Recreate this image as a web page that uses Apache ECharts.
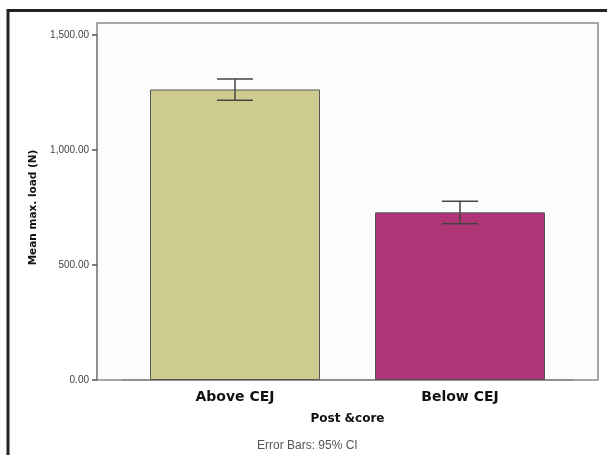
<!DOCTYPE html>
<html>
<head>
<meta charset="utf-8">
<script src="https://cdn.jsdelivr.net/npm/echarts@6/dist/echarts.min.js"></script>
<style>
  html, body { margin: 0; padding: 0; background: #fff; }
  #chart { width: 607px; height: 455px; }
</style>
</head>
<body>
<div id="chart"></div>
<script>
// data
var categories = ['Above CEJ', 'Below CEJ'];
var meanLoad = [1263, 729];
var ciLow = [1216, 679];
var ciHigh = [1309, 777];
var barColors = ['#cfcc8f', '#b03577'];
var yTicks = [0, 500, 1000, 1500];

var myChart = echarts.init(document.getElementById('chart'));

var errData = categories.map(function (c, i) {
    return [i, ciLow[i], ciHigh[i]];
});

var option = {
    animation: false,
    textStyle: { fontFamily: 'Liberation Sans, Arial, sans-serif' },
    grid: [{
        // plot frame
        left: 97, top: 23, width: 501, height: 357,
        show: true,
        backgroundColor: '#fbfcfb',
        borderColor: '#8a8a8a',
        borderWidth: 1.5
    }, {
        left: 122.5, top: 35, width: 450, height: 345
    }],
    xAxis: [{
        gridIndex: 0, type: 'value', show: false
    }, {
        gridIndex: 1,
        type: 'category',
        data: categories,
        name: 'Post &core',
        nameLocation: 'middle',
        nameGap: 33,
        nameTextStyle: { fontFamily: 'DejaVu Sans', fontWeight: 'bold', fontSize: 12, color: '#111' },
        axisLine: { lineStyle: { color: '#8a8a8a', width: 1.5 } },
        axisTick: { alignWithLabel: true, length: 5, lineStyle: { color: '#555', width: 1.5 } },
        axisLabel: { margin: 10, fontFamily: 'DejaVu Sans', fontWeight: 'bold', fontSize: 14, color: '#111' }
    }],
    yAxis: [{
        gridIndex: 0, type: 'value', show: false
    }, {
        gridIndex: 1,
        type: 'value',
        min: yTicks[0],
        max: yTicks[yTicks.length - 1],
        interval: 500,
        offset: 25.5,
        name: 'Mean max. load (N)',
        nameLocation: 'middle',
        nameGap: 56,
        nameTextStyle: { fontFamily: 'DejaVu Sans', fontWeight: 'bold', fontSize: 10.5, color: '#111' },
        axisLine: { show: true, lineStyle: { color: '#8a8a8a', width: 1.5 } },
        axisTick: { show: true, length: 5, lineStyle: { color: '#555', width: 1.5 } },
        splitLine: { show: false },
        axisLabel: {
            margin: 8,
            fontSize: 10,
            color: '#444',
            formatter: function (v) {
                return v.toLocaleString('en-US', { minimumFractionDigits: 2, maximumFractionDigits: 2 });
            }
        }
    }],
    series: [{
        type: 'bar',
        xAxisIndex: 1,
        yAxisIndex: 1,
        barWidth: 170,
        data: meanLoad.map(function (v, i) {
            return { value: v, itemStyle: { color: barColors[i] } };
        }),
        itemStyle: { borderColor: '#555', borderWidth: 1 }
    }, {
        type: 'custom',
        xAxisIndex: 1,
        yAxisIndex: 1,
        data: errData,
        z: 10,
        renderItem: function (params, api) {
            var x = api.value(0);
            var lo = api.coord([x, api.value(1)]);
            var hi = api.coord([x, api.value(2)]);
            var half = 18;
            var st = { stroke: '#444', lineWidth: 1.5 };
            return {
                type: 'group',
                children: [
                    { type: 'line', shape: { x1: hi[0], y1: hi[1], x2: lo[0], y2: lo[1] }, style: st },
                    { type: 'line', shape: { x1: hi[0] - half, y1: hi[1], x2: hi[0] + half, y2: hi[1] }, style: st },
                    { type: 'line', shape: { x1: lo[0] - half, y1: lo[1], x2: lo[0] + half, y2: lo[1] }, style: st }
                ]
            };
        }
    }],
    graphic: [
        { type: 'line', shape: { x1: 8, y1: 9, x2: 8, y2: 455 }, style: { stroke: '#222', lineWidth: 3 } },
        { type: 'line', shape: { x1: 7, y1: 10.5, x2: 607, y2: 10.5 }, style: { stroke: '#222', lineWidth: 3 } },
        {
            type: 'text', left: 257, top: 440,
            style: { text: 'Error Bars: 95% CI', fontSize: 12, fill: '#555', fontFamily: 'Liberation Sans, Arial, sans-serif' }
        }
    ]
};

myChart.setOption(option);
window.addEventListener('resize', function () {
    myChart.resize();
});
</script>
</body>
</html>
